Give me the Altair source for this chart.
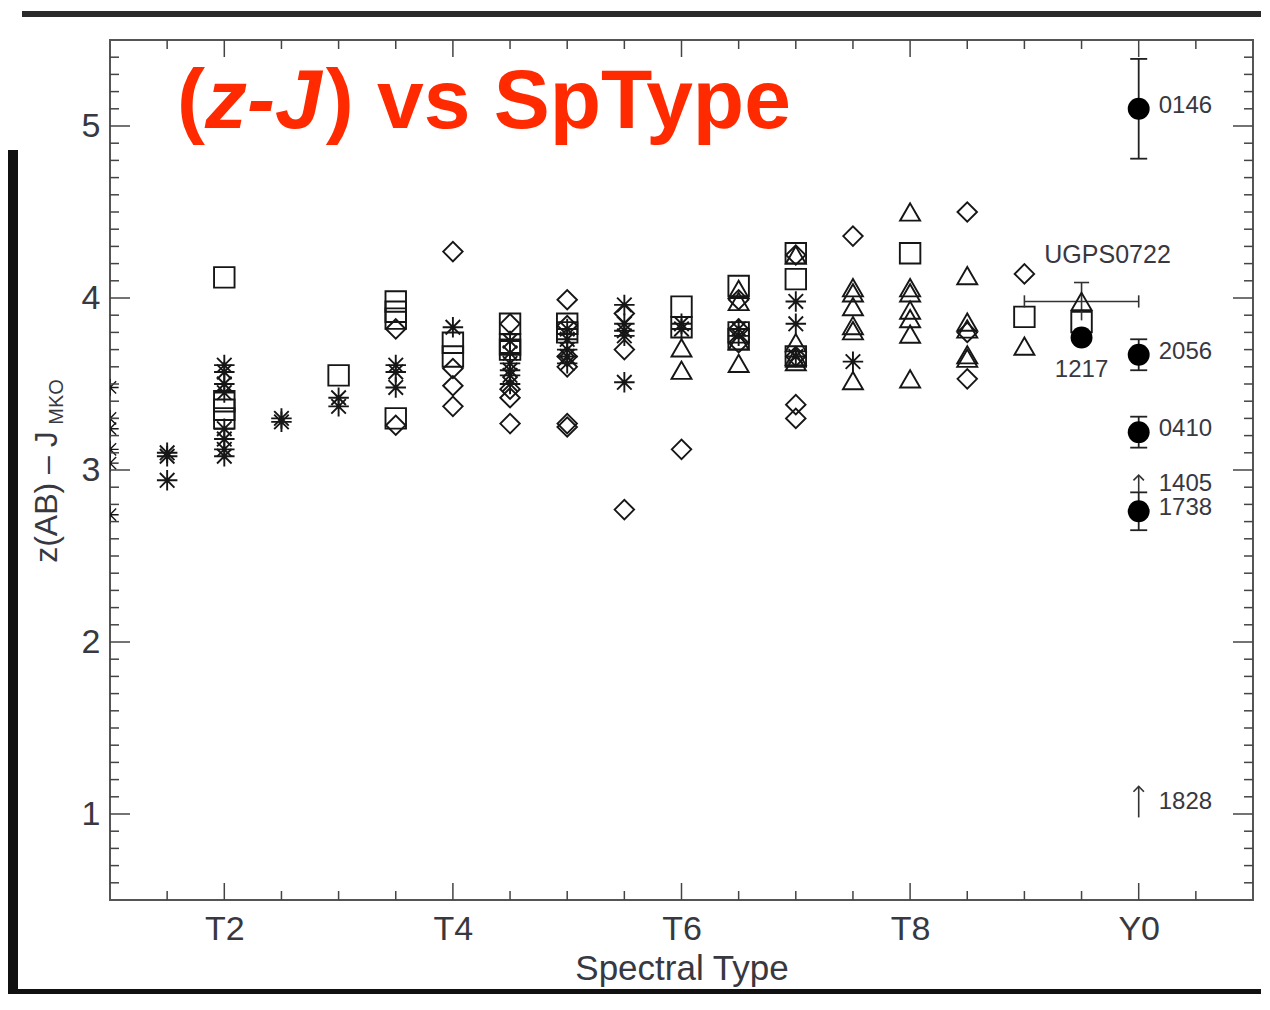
import altair as alt
import pandas as pd

# Spectral type coded numerically: T0 = 10 ... T9 = 19, Y0 = 20
# ---- asterisks ----
ast_spt = [11.5, 11.5, 11.5, 12, 12, 12, 12, 12, 12, 12, 12, 12.5, 12.5, 13, 13,
           13.5, 13.5, 13.5, 14, 14.5, 14.5, 14.5, 14.5, 14.5, 14.5, 15, 15, 15, 15, 15,
           15.5, 15.5, 15.5, 15.5, 15.5, 16, 16, 16.5, 16.5, 17, 17, 17, 17.5]
ast_val = [3.10, 3.08, 2.94, 3.61, 3.57, 3.50, 3.45, 3.24, 3.18, 3.12, 3.08, 3.30, 3.28,
           3.42, 3.37, 3.61, 3.57, 3.48, 3.83, 3.75, 3.68, 3.62, 3.58, 3.55, 3.50,
           3.82, 3.76, 3.70, 3.66, 3.62, 3.96, 3.85, 3.81, 3.78, 3.51, 3.85, 3.82,
           3.82, 3.78, 3.98, 3.85, 3.66, 3.63]
# asterisks sitting on the left frame (T1), partly clipped
edge_spt = [11, 11, 11, 11, 11, 11]
edge_val = [3.48, 3.30, 3.24, 3.12, 3.04, 2.74]
# ---- open squares ----
sq_spt = [12, 12, 12, 12, 13, 13.5, 13.5, 13.5, 13.5, 14, 14, 14.5, 14.5, 14.5, 15, 15,
          16, 16, 16.5, 16.5, 16.5, 17, 17, 17, 18, 19, 19.5]
sq_val = [4.12, 3.40, 3.35, 3.30, 3.55, 3.98, 3.92, 3.88, 3.30, 3.74, 3.66, 3.85, 3.73,
          3.70, 3.85, 3.80, 3.95, 3.83, 4.07, 3.80, 3.76, 4.26, 4.11, 3.66, 4.26, 3.89, 3.86]
# ---- open diamonds ----
dm_spt = [13.5, 13.5, 14, 14, 14, 14, 14.5, 14.5, 14.5, 14.5, 15, 15, 15, 15, 15, 15,
          15.5, 15.5, 15.5, 16, 16.5, 16.5, 16.5, 17, 17, 17, 17, 17.5, 18.5, 18.5, 18.5, 19]
dm_val = [3.82, 3.26, 4.27, 3.59, 3.49, 3.37, 3.85, 3.47, 3.42, 3.27, 3.99, 3.84, 3.66,
          3.60, 3.27, 3.25, 3.91, 3.70, 2.77, 3.12, 3.99, 3.82, 3.74, 4.25, 3.66, 3.38,
          3.30, 4.36, 4.50, 3.80, 3.53, 4.14]
# ---- open triangles ----
tr_spt = [16, 16, 16.5, 16.5, 16.5, 16.5, 17, 17, 17, 17, 17.5, 17.5, 17.5, 17.5, 17.5,
          17.5, 18, 18, 18, 18, 18, 18, 18, 18.5, 18.5, 18.5, 18.5, 18.5, 19]
tr_val = [3.71, 3.58, 4.05, 3.98, 3.75, 3.62, 4.25, 3.74, 3.66, 3.63, 4.06, 4.03, 3.95,
          3.84, 3.81, 3.52, 4.50, 4.06, 4.03, 3.93, 3.88, 3.79, 3.53, 4.13, 3.86, 3.82,
          3.67, 3.65, 3.72]
# ---- UGPS0722 (triangle with error bars in both directions) ----
ugps_name = ["UGPS0722"]
ugps_spt = [19.5]
ugps_val = [3.98]
ugps_spt_err = [0.5]
ugps_val_err = [0.11]
# ---- Y dwarfs (filled circles) ----
yd_name = ["0146", "2056", "0410", "1738", "1217"]
yd_spt = [20, 20, 20, 20, 19.5]
yd_val = [5.10, 3.67, 3.22, 2.76, 3.77]
yd_err = [0.29, 0.09, 0.09, 0.11, 0.0]
# ---- lower limits (arrows) ----
ll_name = ["1405", "1828"]
ll_spt = [20, 20]
ll_val = [2.87, 0.98]
ll_tip = [2.97, 1.16]

x_tick_values = [12, 14, 16, 18, 20]
x_tick_labels = ["T2", "T4", "T6", "T8", "Y0"]
y_tick_values = [1, 2, 3, 4, 5]

W, H = 1143, 860
FONT = "Liberation Sans"
INK = "#161616"
AXC = "#555555"
LABC = "#383840"

xs = alt.Scale(domain=[11, 21], nice=False, zero=False)
ys = alt.Scale(domain=[0.5, 5.5], nice=False, zero=False)

label_expr = " : ".join(
    f"datum.value == {v} ? '{t}'" for v, t in zip(x_tick_values, x_tick_labels)
) + " : ''"

x_axis = alt.Axis(values=x_tick_values, labelExpr=label_expr, ticks=False, tickSize=0,
                  domain=False, grid=False, labelFont=FONT, labelFontSize=34,
                  labelColor=LABC, labelPadding=12, title="Spectral Type",
                  titleFont=FONT, titleFontSize=35, titleFontWeight="normal",
                  titleColor=LABC, titlePadding=5, labelFlush=False)
y_axis = alt.Axis(values=y_tick_values, ticks=False, tickSize=0, domain=False, grid=False,
                  labelFont=FONT, labelFontSize=34, labelColor=LABC, labelPadding=10,
                  title="", labelFlush=False)


def df(**cols):
    return pd.DataFrame(cols)


def XQ(field="spt"):
    return alt.X(f"{field}:Q", scale=xs, axis=x_axis)


def YQ(field="val"):
    return alt.Y(f"{field}:Q", scale=ys, axis=y_axis)


ASTER = "M-1,0L1,0M0,-1L0,1M-0.71,-0.71L0.71,0.71M-0.71,0.71L0.71,-0.71"
VCAP = "M0,-1L0,1"
HEAD = "M-1,1L0,0L1,1"
SW = 1.9

sq = alt.Chart(df(spt=sq_spt, val=sq_val)).mark_point(
    shape="square", size=420, filled=False, color=INK, strokeWidth=SW, opacity=1
).encode(x=XQ(), y=YQ())

ast = alt.Chart(df(spt=ast_spt, val=ast_val)).mark_point(
    shape=ASTER, size=420, filled=False, color=INK, strokeWidth=SW, opacity=1
).encode(x=XQ(), y=YQ())

edge = alt.Chart(df(spt=edge_spt, val=edge_val)).mark_point(
    shape=ASTER, size=300, filled=False, color=INK, strokeWidth=1.4, opacity=1, clip=True
).encode(x=XQ(), y=YQ())

dm = alt.Chart(df(spt=dm_spt, val=dm_val)).mark_point(
    shape="diamond", size=380, filled=False, color=INK, strokeWidth=SW, opacity=1
).encode(x=XQ(), y=YQ())

tr = alt.Chart(df(spt=tr_spt, val=tr_val)).mark_point(
    shape="triangle-up", size=400, filled=False, color=INK, strokeWidth=SW, opacity=1
).encode(x=XQ(), y=YQ())

ugps = df(name=ugps_name, spt=ugps_spt, val=ugps_val, se=ugps_spt_err, ve=ugps_val_err)
ugps["x_lo"] = ugps.spt - ugps.se
ugps["x_hi"] = ugps.spt + ugps.se
ugps["y_lo"] = ugps.val - ugps.ve
ugps["y_hi"] = ugps.val + ugps.ve
ug_base = alt.Chart(ugps)
ug_h = ug_base.mark_rule(color="#333", strokeWidth=1.6).encode(
    x=XQ("x_lo"), x2="x_hi:Q", y=YQ())
ug_v = ug_base.mark_rule(color="#333", strokeWidth=1.6).encode(
    x=XQ(), y=YQ("y_lo"), y2="y_hi:Q")
ug_capx_lo = ug_base.mark_point(shape=VCAP, size=150, color="#333", strokeWidth=1.6,
                                opacity=1).encode(x=XQ("x_lo"), y=YQ())
ug_capx_hi = ug_base.mark_point(shape=VCAP, size=150, color="#333", strokeWidth=1.6,
                                opacity=1).encode(x=XQ("x_hi"), y=YQ())
ug_capy = ug_base.mark_point(shape="stroke", size=230, color="#333", strokeWidth=1.6,
                             opacity=1).encode(x=XQ(), y=YQ("y_hi"))
ug_pt = ug_base.mark_point(shape="triangle-up", size=400, filled=False, color=INK,
                           strokeWidth=SW, opacity=1).encode(x=XQ(), y=YQ())
ug_lab = ug_base.mark_text(font=FONT, fontSize=25, color=LABC, align="center",
                           baseline="middle", dx=26, dy=-46).encode(
    x=XQ(), y=YQ(), text="name:N")

yd = df(name=yd_name, spt=yd_spt, val=yd_val, err=yd_err)
yd["lo"] = yd.val - yd.err
yd["hi"] = yd.val + yd.err
yd_b = alt.Chart(yd)
yd_eb = yd_b.transform_filter("datum.err > 0")
yd_bar = yd_eb.mark_rule(color="#222", strokeWidth=1.8).encode(
    x=XQ(), y=YQ("lo"), y2="hi:Q")
yd_cap_lo = yd_eb.mark_point(shape="stroke", size=289, color="#222", strokeWidth=1.8,
                             opacity=1).encode(x=XQ(), y=YQ("lo"))
yd_cap_hi = yd_eb.mark_point(shape="stroke", size=289, color="#222", strokeWidth=1.8,
                             opacity=1).encode(x=XQ(), y=YQ("hi"))
yd_pt = yd_b.mark_point(shape="circle", size=480, filled=True, color="#000",
                        opacity=1).encode(x=XQ(), y=YQ())
yd_lab_r = yd_b.transform_filter("datum.spt >= 20").mark_text(
    font=FONT, fontSize=24, color=LABC, align="left", baseline="middle", dx=20, dy=-3
).encode(x=XQ(), y=YQ(), text="name:N")
yd_lab_b = yd_b.transform_filter("datum.spt < 20").mark_text(
    font=FONT, fontSize=24, color=LABC, align="center", baseline="middle", dy=32
).encode(x=XQ(), y=YQ(), text="name:N")

ll = df(name=ll_name, spt=ll_spt, val=ll_val, tip=ll_tip)
ll["mid"] = (ll.val + ll.tip) / 2
ll_b = alt.Chart(ll)
ll_stem = ll_b.mark_rule(color="#333", strokeWidth=1.6).encode(
    x=XQ(), y=YQ(), y2="tip:Q")
ll_head = ll_b.mark_point(shape=HEAD, size=110, filled=False, color="#333",
                          strokeWidth=1.6, opacity=1).encode(x=XQ(), y=YQ("tip"))
ll_lab = ll_b.mark_text(font=FONT, fontSize=24, color=LABC, align="left",
                        baseline="middle", dx=20).encode(x=XQ(), y=YQ("mid"), text="name:N")

# inward ticks on all four sides
x_major = x_tick_values
x_minor = [11 + 0.5 * i for i in range(1, 20) if (11 + 0.5 * i) not in x_major]
y_major = y_tick_values
y_minor = [round(0.5 + 0.1 * i, 2) for i in range(1, 50) if round(0.5 + 0.1 * i, 2) not in y_major]


def xticks(vals, length):
    c = alt.Chart(df(spt=vals))
    bot = c.mark_rule(color="#444", strokeWidth=1.5).encode(
        x=XQ(), y=alt.value(H), y2=alt.value(H - length))
    top = c.mark_rule(color="#444", strokeWidth=1.5).encode(
        x=XQ(), y=alt.value(0), y2=alt.value(length))
    return [bot, top]


def yticks(vals, length):
    c = alt.Chart(df(val=vals))
    left = c.mark_rule(color="#444", strokeWidth=1.5).encode(
        y=YQ(), x=alt.value(0), x2=alt.value(length))
    right = c.mark_rule(color="#444", strokeWidth=1.5).encode(
        y=YQ(), x=alt.value(W), x2=alt.value(W - length))
    return [left, right]


tick_layers = xticks(x_major, 17) + xticks(x_minor, 9) + yticks(y_major, 20) + yticks(y_minor, 9)

# y axis title with subscript
one = alt.Chart(df(k=[0]))
ytitle = one.mark_text(text="z(AB) – J", font=FONT, fontSize=32, color=LABC, angle=270,
                       align="center", baseline="middle").encode(
    x=alt.value(-63), y=alt.value(457))
ysub = one.mark_text(text="MKO", font=FONT, fontSize=20, color=LABC, angle=270,
                     align="center", baseline="middle").encode(
    x=alt.value(-53), y=alt.value(362))

# red headline "(z-J) vs SpType" with italic z and J
RED = "#ff2a00"
TF = 84
t_x0, t_y = 67, 88
t1 = one.mark_text(text="(", font=FONT, fontSize=TF, fontWeight="bold", color=RED,
                   align="left", baseline="alphabetic").encode(x=alt.value(t_x0), y=alt.value(t_y))
t2 = one.mark_text(text="z-J", font=FONT, fontSize=TF, fontWeight="bold", fontStyle="italic",
                   color=RED, align="left", baseline="alphabetic").encode(
    x=alt.value(t_x0 + 0.333 * TF), y=alt.value(t_y))
t3 = one.mark_text(text=") vs SpType", font=FONT, fontSize=TF, fontWeight="bold", color=RED,
                   align="left", baseline="alphabetic").encode(
    x=alt.value(t_x0 + 0.333 * TF + 1.389 * TF + 4), y=alt.value(t_y))

# dark edges of the photographed page
edge_top = one.mark_rule(color="#2a2a2a", strokeWidth=6).encode(
    x=alt.value(-88), x2=alt.value(W + 8), y=alt.value(-26))
edge_bot = one.mark_rule(color="#111", strokeWidth=5).encode(
    x=alt.value(-92), x2=alt.value(W + 8), y=alt.value(951.5))
edge_left = one.mark_rule(color="#111", strokeWidth=10).encode(
    x=alt.value(-97), y=alt.value(110), y2=alt.value(954))

chart = alt.layer(
    sq, ast, edge, dm, tr,
    ug_h, ug_v, ug_capx_lo, ug_capx_hi, ug_capy, ug_pt, ug_lab,
    yd_bar, yd_cap_lo, yd_cap_hi, yd_pt, yd_lab_r, yd_lab_b,
    ll_stem, ll_head, ll_lab,
    *tick_layers,
    ytitle, ysub, t1, t2, t3,
    edge_top, edge_bot, edge_left,
).properties(
    width=W, height=H,
    autosize=alt.AutoSizeParams(type="none"),
    padding={"left": 102, "top": 32, "right": 8, "bottom": 94},
    background="white",
).configure_view(stroke=AXC, strokeWidth=2)

chart.save("out.html", embed_options={"renderer": "svg", "actions": False})
